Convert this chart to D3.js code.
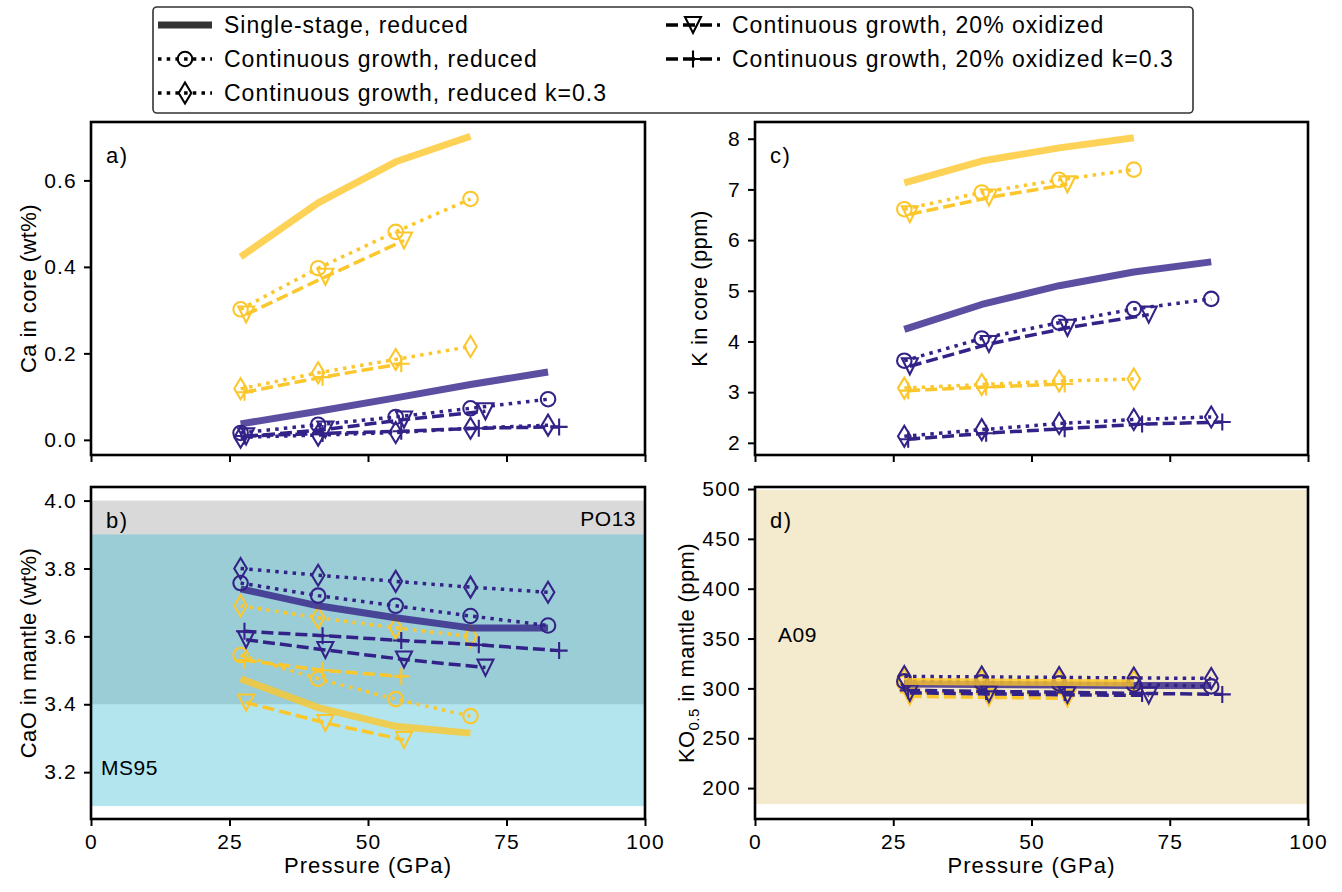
<!DOCTYPE html>
<html>
<head>
<meta charset="utf-8">
<script src="https://cdn.jsdelivr.net/npm/d3@7"></script>
<style>
body { margin: 0; background: #fff; }
svg text { font-family: "Liberation Sans", Arial, sans-serif; fill: #000; }
</style>
</head>
<body>
<svg id="fig" width="1342" height="892"></svg>
<script>
// pressures of the runs (GPa)
const pRed = [27, 41, 55, 68.5, 82.5];       // single-stage + continuous reduced
const pOx = [28, 42.3, 56.5, 71.2];          // 20% oxidized
const pOxK = [27.7, 41.8, 56, 70, 84.5];     // 20% oxidized k=0.3

// a) Ca in core (wt%)
const caCoreSingleGold = [0.423, 0.548, 0.643, 0.702];
const caCoreSingleBlue = [0.037, 0.066, 0.097, 0.128, 0.157];
const caCoreRedGold = [0.302, 0.397, 0.481, 0.557];
const caCoreRedBlue = [0.016, 0.035, 0.053, 0.073, 0.094];
const caCoreRedKGold = [0.118, 0.155, 0.186, 0.216];
const caCoreRedKBlue = [0.006, 0.011, 0.017, 0.027, 0.034];
const caCoreOxGold = [0.29, 0.377, 0.461];
const caCoreOxBlue = [0.008, 0.024, 0.047, 0.066];
const caCoreOxKGold = [0.11, 0.145, 0.176];
const caCoreOxKBlue = [0.009, 0.015, 0.02, 0.027, 0.03];

// b) CaO in mantle (wt%)
const caoSingleGold = [3.475, 3.39, 3.335, 3.315];
const caoSingleBlue = [3.74, 3.69, 3.655, 3.625, 3.625];
const caoRedGold = [3.545, 3.475, 3.415, 3.365];
const caoRedBlue = [3.757, 3.72, 3.69, 3.66, 3.632];
const caoRedKGold = [3.69, 3.655, 3.625, 3.6];
const caoRedKBlue = [3.80, 3.78, 3.762, 3.745, 3.73];
const caoOxGold = [3.405, 3.345, 3.295];
const caoOxBlue = [3.59, 3.56, 3.532, 3.508];
const caoOxKGold = [3.53, 3.5, 3.482];
const caoOxKBlue = [3.615, 3.602, 3.588, 3.575, 3.558];

// c) K in core (ppm)
const kCoreSingleGold = [7.13, 7.56, 7.82, 8.02];
const kCoreSingleBlue = [4.24, 4.73, 5.1, 5.37, 5.57];
const kCoreRedGold = [6.61, 6.94, 7.19, 7.39];
const kCoreRedBlue = [3.62, 4.06, 4.37, 4.64, 4.84];
const kCoreRedKGold = [3.08, 3.15, 3.22, 3.26];
const kCoreRedKBlue = [2.13, 2.26, 2.38, 2.46, 2.51];
const kCoreOxGold = [6.51, 6.84, 7.1];
const kCoreOxBlue = [3.51, 3.95, 4.27, 4.53];
const kCoreOxKGold = [3.03, 3.1, 3.16];
const kCoreOxKBlue = [2.07, 2.19, 2.28, 2.37, 2.41];

// d) KO0.5 in mantle (ppm)
const koSingleGold = [307, 306.5, 306, 305.5];
const koSingleBlue = [304.5, 304, 303.5, 303, 303];
const koRedGold = [305.5, 305, 304.5, 304];
const koRedBlue = [307, 306, 305, 304, 302];
const koRedKGold = [309, 308, 307.5, 307];
const koRedKBlue = [312, 311.5, 311, 310.5, 310];
const koOxGold = [292, 291, 290];
const koOxBlue = [295.5, 294.5, 293.5, 293];
const koOxKGold = [296, 295, 294.5];
const koOxKBlue = [298, 297, 296, 295, 294];

// ticks
const xTicks = [0, 25, 50, 75, 100];
const caCoreTicks = [0, 0.2, 0.4, 0.6];
const caoTicks = [3.2, 3.4, 3.6, 3.8, 4.0];
const kCoreTicks = [2, 3, 4, 5, 6, 7, 8];
const koTicks = [200, 250, 300, 350, 400, 450, 500];

const legendLabels = ["Single-stage, reduced", "Continuous growth, reduced", "Continuous growth, reduced k=0.3",
  "Continuous growth, 20% oxidized", "Continuous growth, 20% oxidized k=0.3"];

const gold = "#fcc72c", indigo = "#332288";

// style of each model kind
const kinds = {
  single: { p: pRed, dash: null, width: 7, marker: null, alpha: 0.8 },
  red:    { p: pRed, dash: "3.5,5.2", width: 3.5, marker: "o", alpha: 1 },
  redK:   { p: pRed, dash: "3.5,5.2", width: 3.5, marker: "d", alpha: 1 },
  ox:     { p: pOx, dash: "12,5", width: 3.5, marker: "v", alpha: 1 },
  oxK:    { p: pOxK, dash: "12,5", width: 3.5, marker: "+", alpha: 1 }
};

const panels = [
  { tag: "a)", x0: 91, x1: 645, y0: 122, y1: 455, dom: [-0.035, 0.735], ticks: caCoreTicks, fmt: d3.format(".1f"),
    ylab: "Ca in core (wt%)", ylabX: 36, xlab: false,
    gold: { single: caCoreSingleGold, red: caCoreRedGold, redK: caCoreRedKGold, ox: caCoreOxGold, oxK: caCoreOxKGold },
    blue: { single: caCoreSingleBlue, red: caCoreRedBlue, redK: caCoreRedKBlue, ox: caCoreOxBlue, oxK: caCoreOxKBlue } },
  { tag: "b)", x0: 91, x1: 645, y0: 487, y1: 819, dom: [3.062, 4.04], ticks: caoTicks, fmt: d3.format(".1f"),
    ylab: "CaO in mantle (wt%)", ylabX: 36, xlab: true,
    gold: { single: caoSingleGold, red: caoRedGold, redK: caoRedKGold, ox: caoOxGold, oxK: caoOxKGold },
    blue: { single: caoSingleBlue, red: caoRedBlue, redK: caoRedKBlue, ox: caoOxBlue, oxK: caoOxKBlue } },
  { tag: "c)", x0: 755, x1: 1308, y0: 122, y1: 455, dom: [1.76, 8.33], ticks: kCoreTicks, fmt: d3.format("d"),
    ylab: "K in core (ppm)", ylabX: 707, xlab: false,
    gold: { single: kCoreSingleGold, red: kCoreRedGold, redK: kCoreRedKGold, ox: kCoreOxGold, oxK: kCoreOxKGold },
    blue: { single: kCoreSingleBlue, red: kCoreRedBlue, redK: kCoreRedKBlue, ox: kCoreOxBlue, oxK: kCoreOxKBlue } },
  { tag: "d)", x0: 755, x1: 1308, y0: 487, y1: 819, dom: [169, 502], ticks: koTicks, fmt: d3.format("d"),
    ylab: null, ylabX: 694, xlab: true,
    gold: { single: koSingleGold, red: koRedGold, redK: koRedKGold, ox: koOxGold, oxK: koOxKGold },
    blue: { single: koSingleBlue, red: koRedBlue, redK: koRedKBlue, ox: koOxBlue, oxK: koOxKBlue } }
];

const svg = d3.select("#fig");

function markerPath(m) {
  if (m === "o") return d3.symbol(d3.symbolCircle, 165)();   // r ~7.2
  if (m === "d") return "M0,-10.5L6.3,0L0,10.5L-6.3,0Z";
  if (m === "v") return "M-8,-8L8,-8L0,8Z";
  if (m === "+") return "M-8.5,0H8.5M0,-8.5V8.5";
  return null;
}

function drawSeries(g, x, y, kind, vals, color) {
  const k = kinds[kind];
  const pts = vals.map((v, i) => [k.p[i], v]);
  const line = d3.line().x(d => x(d[0])).y(d => y(d[1]));
  g.append("path").attr("d", line(pts))
    .attr("fill", "none").attr("stroke", color).attr("stroke-width", k.width)
    .attr("stroke-dasharray", k.dash).attr("stroke-opacity", k.alpha)
    .attr("stroke-linejoin", "round");
  if (k.marker) {
    g.selectAll(null).data(pts).enter().append("path")
      .attr("transform", d => `translate(${x(d[0])},${y(d[1])})`)
      .attr("d", markerPath(k.marker))
      .attr("fill", "none").attr("stroke", color).attr("stroke-width", 2.1);
  }
}

panels.forEach(p => {
  const x = d3.scaleLinear().domain([0, 100]).range([p.x0, p.x1]);
  const y = d3.scaleLinear().domain(p.dom).range([p.y1, p.y0]);
  const g = svg.append("g");

  // reference bands
  if (p.tag === "b)") {
    g.append("rect").attr("x", p.x0).attr("width", p.x1 - p.x0)
      .attr("y", y(4.0)).attr("height", y(3.4) - y(4.0)).attr("fill", "#d9d9d9");
    g.append("rect").attr("x", p.x0).attr("width", p.x1 - p.x0)
      .attr("y", y(3.9)).attr("height", y(3.1) - y(3.9)).attr("fill", "rgb(50,185,212)").attr("fill-opacity", 0.37);
    g.append("text").attr("x", p.x1 - 9).attr("y", y(3.95) + 8).attr("text-anchor", "end")
      .attr("font-size", 21).attr("letter-spacing", 0.5).text("PO13");
    g.append("text").attr("x", p.x0 + 10).attr("y", y(3.2) + 3).attr("font-size", 21)
      .attr("letter-spacing", 0.5).text("MS95");
  }
  if (p.tag === "d)") {
    g.append("rect").attr("x", p.x0).attr("width", p.x1 - p.x0)
      .attr("y", y(499)).attr("height", y(184) - y(499)).attr("fill", "#f4eacd");
    g.append("text").attr("x", p.x0 + 23).attr("y", y(350) + 3).attr("font-size", 21)
      .attr("letter-spacing", 0.5).text("A09");
  }

  // model curves: gold then indigo, single-stage lines on top
  ["red", "redK", "ox", "oxK"].forEach(kd => {
    drawSeries(g, x, y, kd, p.gold[kd], gold);
  });
  ["red", "redK", "ox", "oxK"].forEach(kd => {
    drawSeries(g, x, y, kd, p.blue[kd], indigo);
  });
  drawSeries(g, x, y, "single", p.blue.single, indigo);
  drawSeries(g, x, y, "single", p.gold.single, gold);

  // axes
  const ax = g.append("g").attr("transform", `translate(0,${p.y1})`)
    .call(d3.axisBottom(x).tickValues(xTicks).tickSize(7).tickPadding(8)
      .tickFormat(p.xlab ? d3.format("d") : ""));
  const ay = g.append("g").attr("transform", `translate(${p.x0},0)`)
    .call(d3.axisLeft(y).tickValues(p.ticks).tickSize(7).tickPadding(7).tickFormat(p.fmt));
  [ax, ay].forEach(a => {
    a.select(".domain").remove();
    a.selectAll(".tick line").attr("stroke", "#000").attr("stroke-width", 2);
    a.selectAll(".tick text").attr("font-size", 21).attr("letter-spacing", 1.2)
      .attr("font-family", "Liberation Sans, Arial, sans-serif");
  });
  g.append("rect").attr("x", p.x0).attr("y", p.y0).attr("width", p.x1 - p.x0).attr("height", p.y1 - p.y0)
    .attr("fill", "none").attr("stroke", "#000").attr("stroke-width", 2.6);

  // labels
  g.append("text").attr("x", p.x0 + 15).attr("y", p.y0 + 41).attr("font-size", 22).attr("letter-spacing", 1.5).text(p.tag);
  const yl = g.append("text").attr("transform", `translate(${p.ylabX},${(p.y0 + p.y1) / 2}) rotate(-90)`)
    .attr("text-anchor", "middle").attr("font-size", 22).attr("letter-spacing", 0.4);
  if (p.ylab) yl.text(p.ylab);
  else {
    yl.append("tspan").text("KO");
    yl.append("tspan").attr("font-size", 15).attr("dy", 5).text("0.5");
    yl.append("tspan").attr("dy", -5).text(" in mantle (ppm)");
  }
  if (p.xlab) {
    g.append("text").attr("x", (p.x0 + p.x1) / 2).attr("y", 873).attr("text-anchor", "middle")
      .attr("font-size", 22).attr("letter-spacing", 1.1).text("Pressure (GPa)");
  }
});

// legend
const lg = svg.append("g");
lg.append("rect").attr("x", 153).attr("y", 7).attr("width", 1040).attr("height", 106).attr("rx", 4)
  .attr("fill", "#fff").attr("stroke", "#333").attr("stroke-width", 1.6);
const legendKinds = ["single", "red", "redK", "ox", "oxK"];
legendKinds.forEach((kd, i) => {
  const col = i < 3 ? 0 : 1;
  const row = i < 3 ? i : i - 3;
  const hx = col === 0 ? 158 : 666;
  const ty = 25 + row * 34;
  const k = kinds[kd];
  lg.append("line").attr("x1", hx).attr("x2", hx + 54).attr("y1", ty).attr("y2", ty)
    .attr("stroke", "#000").attr("stroke-width", k.width).attr("stroke-opacity", k.alpha)
    .attr("stroke-dasharray", k.dash);
  if (k.marker) {
    lg.append("path").attr("transform", `translate(${hx + 27},${ty})`).attr("d", markerPath(k.marker))
      .attr("fill", "none").attr("stroke", "#000").attr("stroke-width", 2.1);
  }
  lg.append("text").attr("x", hx + 66).attr("y", ty + 8).attr("font-size", 23)
    .attr("letter-spacing", 1.0).text(legendLabels[i]);
});
</script>
</body>
</html>
